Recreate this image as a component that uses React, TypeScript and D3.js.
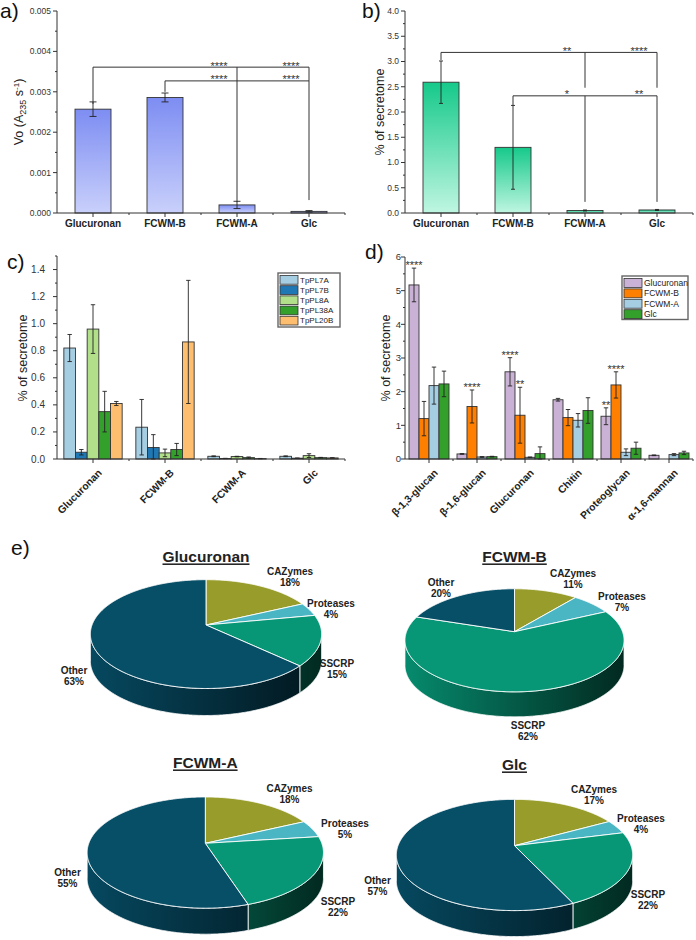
import React from 'react';
import * as d3 from 'd3';

const FONT = "'Liberation Sans', Arial, Helvetica, sans-serif";

// ---------------- data ----------------
const substrates = ['Glucuronan', 'FCWM-B', 'FCWM-A', 'Glc'];
const voValues = [0.00257, 0.00286, 0.0002, 0.00004];
const voErrors = [0.00018, 0.00011, 0.00009, 0.00002];
const lyaseShare = [2.59, 1.3, 0.05, 0.06];
const lyaseShareErr = [0.42, 0.83, 0.01, 0.01];

const enzymes = ['TpPL7A', 'TpPL7B', 'TpPL8A', 'TpPL38A', 'TpPL20B'];
const tpPL7A = [0.82, 0.235, 0.02, 0.02];
const tpPL7AErr = [0.1, 0.205, 0.003, 0.003];
const tpPL7B = [0.05, 0.085, 0.004, 0.006];
const tpPL7BErr = [0.02, 0.095, 0.001, 0.001];
const tpPL8A = [0.96, 0.045, 0.018, 0.025];
const tpPL8AErr = [0.18, 0.028, 0.002, 0.014];
const tpPL38A = [0.35, 0.07, 0.01, 0.01];
const tpPL38AErr = [0.15, 0.045, 0.005, 0.002];
const tpPL20B = [0.41, 0.865, 0.003, 0.008];
const tpPL20BErr = [0.015, 0.455, 0.001, 0.001];

const cwmTypes = ['β-1,3-glucan', 'β-1,6-glucan', 'Glucuronan', 'Chitin', 'Proteoglycan', 'α-1,6-mannan'];
const dGlucuronan = [5.17, 0.15, 2.59, 1.76, 1.27, 0.11];
const dGlucuronanErr = [0.5, 0.01, 0.42, 0.04, 0.25, 0.01];
const dFCWMB = [1.2, 1.56, 1.3, 1.23, 2.2, 0];
const dFCWMBErr = [0.51, 0.49, 0.83, 0.24, 0.39, 0];
const dFCWMA = [2.18, 0.06, 0.05, 1.15, 0.2, 0.13];
const dFCWMAErr = [0.55, 0.01, 0.01, 0.2, 0.1, 0.03];
const dGlc = [2.23, 0.07, 0.16, 1.44, 0.32, 0.18];
const dGlcErr = [0.38, 0.01, 0.2, 0.38, 0.18, 0.05];

const pieCategories = ['CAZymes', 'Proteases', 'SSCRP', 'Other'];
const pieGlucuronan = [18, 4, 15, 63];
const pieFCWMB = [11, 7, 62, 20];
const pieFCWMA = [18, 5, 22, 55];
const pieGlc = [17, 4, 22, 57];

// significance annotations (data units)
const aLines = [{ c1: 0, c2: 3, y: 0.00361 }, { c1: 1, c2: 3, y: 0.00327 }];
const aLegs = [
  { c: 0, y1: 0.00361, y2: 0.0027 }, { c: 2, y1: 0.00361, y2: 0.00027 }, { c: 3, y1: 0.00361, y2: 0.00327 },
  { c: 1, y1: 0.00327, y2: 0.003 }, { c: 3, y1: 0.00327, y2: 0.00032 },
];
const aStars = [{ c: 2, y: 0.00361, t: '****' }, { c: 3, y: 0.00361, t: '****' }, { c: 2, y: 0.00327, t: '****' }, { c: 3, y: 0.00327, t: '****' }];
const bLines = [{ c1: 0, c2: 3, y: 3.18 }, { c1: 1, c2: 3, y: 2.32 }];
const bLegs = [
  { c: 0, y1: 3.18, y2: 3.03 }, { c: 2, y1: 3.18, y2: 2.48 }, { c: 3, y1: 3.18, y2: 2.48 },
  { c: 1, y1: 2.32, y2: 2.13 }, { c: 2, y1: 2.32, y2: 0.22 }, { c: 3, y1: 2.32, y2: 0.22 },
];
const bStars = [{ c: 2, y: 3.18, t: '**' }, { c: 3, y: 3.18, t: '****' }, { c: 2, y: 2.32, t: '*' }, { c: 3, y: 2.32, t: '**' }];
const dStars = [
  { c: 0, s: 0, t: '****' }, { c: 1, s: 1, t: '****' }, { c: 2, s: 0, t: '****' },
  { c: 2, s: 1, t: '**' }, { c: 4, s: 1, t: '****' }, { c: 4, s: 0, t: '**' },
];

// ---------------- helpers ----------------
type Series = { name: string; fill: string; values: number[]; errs: number[] };

type PanelCfg = {
  x0: number; x1: number; yTop: number; yBot: number; max: number;
  ticks: number[]; minor: number[]; fmt: (v: number) => string; tickFs: number; tickEnd: number;
  cats: string[]; series: Series[]; padInner: number; padOuter: number; capW: number;
  rotate: boolean; labelFs: number; yLabel: React.ReactNode; yLabelX: number; yLabelY: number;
};

function makeScales(p: PanelCfg) {
  const x = d3.scaleBand<string>().domain(p.cats).range([p.x0, p.x1]).paddingInner(p.padInner).paddingOuter(p.padOuter);
  const sub = d3.scaleBand<number>().domain(d3.range(p.series.length)).range([0, x.bandwidth()]);
  const y = d3.scaleLinear().domain([0, p.max]).range([p.yBot, p.yTop]);
  return { x, sub, y };
}

function BarPanel({ p, children }: { p: PanelCfg; children?: React.ReactNode }) {
  const { x, sub, y } = makeScales(p);
  const step = x.step();
  const ax = '#333';
  return (
    <g>
      {p.cats.map((c, ci) =>
        p.series.map((s, si) => {
          const v = s.values[ci];
          if (v <= 0) return null;
          const bx = (x(c) as number) + (sub(si) as number);
          const bw = sub.bandwidth();
          return (
            <rect key={`b${ci}-${si}`} x={bx} y={y(v)} width={bw} height={p.yBot - y(v)}
              fill={s.fill} stroke="#333" strokeWidth={0.9} />
          );
        })
      )}
      {p.cats.map((c, ci) =>
        p.series.map((s, si) => {
          const v = s.values[ci];
          const e = s.errs[ci];
          if (v <= 0 || e <= 0) return null;
          const cx = (x(c) as number) + (sub(si) as number) + sub.bandwidth() / 2;
          const yh = y(v + e), yl = y(Math.max(0, v - e));
          return (
            <g key={`e${ci}-${si}`} stroke="#222" strokeWidth={0.9}>
              <line x1={cx} x2={cx} y1={yh} y2={yl} />
              <line x1={cx - p.capW} x2={cx + p.capW} y1={yh} y2={yh} />
              <line x1={cx - p.capW} x2={cx + p.capW} y1={yl} y2={yl} />
            </g>
          );
        })
      )}
      <line x1={p.x0} x2={p.x0} y1={p.yBot} y2={p.yTop} stroke={ax} strokeWidth={1} />
      <line x1={p.x0} x2={p.x1} y1={p.yBot} y2={p.yBot} stroke={ax} strokeWidth={1} />
      {p.ticks.map((t) => (
        <g key={`t${t}`}>
          <line x1={p.x0 - 4} x2={p.x0} y1={y(t)} y2={y(t)} stroke={ax} />
          <text x={p.tickEnd} y={y(t)} dy="0.35em" textAnchor="end" fontSize={p.tickFs} fill="#333">{p.fmt(t)}</text>
        </g>
      ))}
      {p.minor.map((t) => (
        <line key={`m${t}`} x1={p.x0 - 2} x2={p.x0} y1={y(t)} y2={y(t)} stroke={ax} />
      ))}
      {p.cats.map((c, ci) => {
        const cx = (x(c) as number) + x.bandwidth() / 2;
        return (
          <g key={`xt${ci}`}>
            <line x1={cx} x2={cx} y1={p.yBot} y2={p.yBot + 4} stroke={ax} />
            <line x1={cx + step / 2} x2={cx + step / 2} y1={p.yBot} y2={p.yBot + 2} stroke={ax} />
            {p.rotate ? (
              <text transform={`translate(${cx + 7},${p.yBot + 12}) rotate(-45)`} dy="0.35em" textAnchor="end"
                fontSize={p.labelFs} fontWeight="bold" fill="#222">{c}</text>
            ) : (
              <text x={cx} y={p.yBot + 14} textAnchor="middle" fontSize={p.labelFs} fontWeight="bold" fill="#222">{c}</text>
            )}
          </g>
        );
      })}
      <text transform={`translate(${p.yLabelX},${p.yLabelY}) rotate(-90)`} textAnchor="middle" fontSize={12.5} fill="#222">
        {p.yLabel}
      </text>
      {children}
    </g>
  );
}

function Brackets({ p, lines, legs, stars }: { p: PanelCfg; lines: any[]; legs: any[]; stars: any[] }) {
  const { x, y } = makeScales(p);
  const cxOf = (i: number) => (x(p.cats[i]) as number) + x.bandwidth() / 2;
  return (
    <g stroke="#333" strokeWidth={1}>
      {lines.map((l, i) => <line key={`l${i}`} x1={cxOf(l.c1)} x2={cxOf(l.c2)} y1={y(l.y)} y2={y(l.y)} />)}
      {legs.map((l, i) => <line key={`g${i}`} x1={cxOf(l.c)} x2={cxOf(l.c)} y1={y(l.y1)} y2={y(l.y2)} />)}
      {stars.map((s, i) => (
        <text key={`s${i}`} x={cxOf(s.c) - 18} y={y(s.y) + 2.5} textAnchor="middle" fontSize={11} fill="#333" stroke="none">{s.t}</text>
      ))}
    </g>
  );
}

function Legend({ x, y, w, h, rowH, items, fs }: { x: number; y: number; w: number; h: number; rowH: number; items: { name: string; fill: string }[]; fs: number }) {
  return (
    <g>
      <rect x={x} y={y} width={w} height={h} fill="#fff" stroke="#666" strokeWidth={1.4} />
      {items.map((it, i) => (
        <g key={it.name}>
          <rect x={x + 2} y={y + 2.5 + i * rowH} width={18} height={rowH - 1.5} fill={it.fill} stroke="#333" strokeWidth={0.8} />
          <text x={x + 22} y={y + 2.5 + i * rowH + (rowH - 1.5) / 2} dy="0.35em" fontSize={fs} fill="#222">{it.name}</text>
        </g>
      ))}
    </g>
  );
}

// ---------- 3D pie ----------
const PD = 5.31, PC = 0.886, PS = 0.464;
function proj(cx: number, cy: number, k: number, th: number): [number, number] {
  const X = Math.sin(th), Z = -Math.cos(th);
  const w = PD / (PD - Z * PC);
  return [cx + k * X * w, cy + k * Z * PS * w];
}
const pieColors = ['#979c2b', '#4bb6c3', '#079676', '#074e67'];
function shade(hex: string, f: number) {
  const c = d3.rgb(hex);
  return d3.rgb(c.r * f, c.g * f, c.b * f).formatHex();
}

type PieCfg = { id: string; title: string; values: number[]; cx: number; cy: number; k: number; depth: number; titleY: number; labels: [number, number][] };

function Pie3D({ c }: { c: PieCfg }) {
  const total = d3.sum(c.values);
  const pie = d3.pie<number>().sort(null).value((d) => d)(c.values);
  const thR = Math.acos(-PC / PD);
  const thL = 2 * Math.PI - thR;
  const arcPts = (a0: number, a1: number, dy = 0) => {
    const n = Math.max(2, Math.ceil(((a1 - a0) * 180) / Math.PI / 0.5));
    return d3.range(n + 1).map((i) => {
      const [px, py] = proj(c.cx, c.cy, c.k, a0 + ((a1 - a0) * i) / n);
      return [px, py + dy] as [number, number];
    });
  };
  const line = d3.line();
  return (
    <g>
      <defs>
        {pieColors.map((col, i) => (
          <linearGradient key={i} id={`side-${c.id}-${i}`} gradientUnits="userSpaceOnUse" x1={c.cx - c.k} x2={c.cx + c.k} y1={0} y2={0}>
            <stop offset="0" stopColor={shade(col, 0.92)} />
            <stop offset="1" stopColor={shade(col, 0.28)} />
          </linearGradient>
        ))}
      </defs>
      {pie.map((s, i) => {
        const lo = Math.max(s.startAngle, thR), hi = Math.min(s.endAngle, thL);
        if (lo >= hi) return null;
        const top = arcPts(lo, hi);
        const bot = arcPts(lo, hi, c.depth).reverse();
        return <path key={`sd${i}`} d={line([...top, ...bot]) + 'Z'} fill={`url(#side-${c.id}-${i})`} stroke="#fff" strokeWidth={0.8} />;
      })}
      {pie.map((s, i) => {
        const pts = arcPts(s.startAngle, s.endAngle);
        return <path key={`tp${i}`} d={line([[c.cx, c.cy], ...pts]) + 'Z'} fill={pieColors[i]} stroke="#fff" strokeWidth={0.9} strokeLinejoin="round" />;
      })}
      <text x={c.cx} y={c.titleY} dy="0.35em" textAnchor="middle" fontSize={15.5} fontWeight="bold" fill="#222" textDecoration="underline">{c.title}</text>
      {pieCategories.map((name, i) => (
        <text key={name} x={c.labels[i][0]} y={c.labels[i][1]} dy="0.35em" textAnchor="middle" fontSize={10} fontWeight="bold" fill="#222">
          <tspan x={c.labels[i][0]}>{name}</tspan>
          <tspan x={c.labels[i][0]} dy="11.3">{`${Math.round((c.values[i] / total) * 100)}%`}</tspan>
        </text>
      ))}
    </g>
  );
}

// ---------------- config ----------------
const enzymeColors = ['#a6cee3', '#1f78b4', '#b2df8a', '#33a02c', '#fdbf6f'];
const dColors = ['#cab2d6', '#ff7f00', '#a6cee3', '#33a02c'];

const panelA: PanelCfg = {
  x0: 57, x1: 345, yTop: 11, yBot: 213, max: 0.005,
  ticks: d3.range(0, 0.0050001, 0.001), minor: d3.range(0.0005, 0.005, 0.001), fmt: d3.format('.3f'), tickFs: 8.5, tickEnd: 51,
  cats: substrates, series: [{ name: 'Vo', fill: 'url(#gradA)', values: voValues, errs: voErrors }],
  padInner: 0.5, padOuter: 0.25, capW: 3.5, rotate: false, labelFs: 10,
  yLabel: (<>Vo (A<tspan fontSize={9} dy="3">235</tspan><tspan dy="-3"> s</tspan><tspan fontSize={8} dy="-4">-1</tspan><tspan dy="4">)</tspan></>),
  yLabelX: 23, yLabelY: 112,
};
const panelB: PanelCfg = {
  x0: 405, x1: 693, yTop: 11, yBot: 213, max: 4,
  ticks: d3.range(0, 4.0001, 0.5), minor: d3.range(0.25, 4, 0.5), fmt: d3.format('.1f'), tickFs: 8.5, tickEnd: 399,
  cats: substrates, series: [{ name: 'share', fill: 'url(#gradB)', values: lyaseShare, errs: lyaseShareErr }],
  padInner: 0.5, padOuter: 0.25, capW: 2, rotate: false, labelFs: 10,
  yLabel: '% of secretome', yLabelX: 384, yLabelY: 112,
};
const panelC: PanelCfg = {
  x0: 57, x1: 345, yTop: 256, yBot: 459, max: 1.5,
  ticks: d3.range(0, 1.50001, 0.2), minor: d3.range(0.1, 1.55, 0.2), fmt: d3.format('.1f'), tickFs: 10, tickEnd: 45,
  cats: substrates,
  series: [
    { name: enzymes[0], fill: enzymeColors[0], values: tpPL7A, errs: tpPL7AErr },
    { name: enzymes[1], fill: enzymeColors[1], values: tpPL7B, errs: tpPL7BErr },
    { name: enzymes[2], fill: enzymeColors[2], values: tpPL8A, errs: tpPL8AErr },
    { name: enzymes[3], fill: enzymeColors[3], values: tpPL38A, errs: tpPL38AErr },
    { name: enzymes[4], fill: enzymeColors[4], values: tpPL20B, errs: tpPL20BErr },
  ],
  padInner: 0.19, padOuter: 0.095, capW: 2.2, rotate: true, labelFs: 10.3,
  yLabel: '% of secretome', yLabelX: 27, yLabelY: 358,
};
const panelD: PanelCfg = {
  x0: 405, x1: 693, yTop: 257, yBot: 459, max: 6,
  ticks: d3.range(0, 6.0001, 1), minor: d3.range(0.5, 6, 1), fmt: d3.format('d'), tickFs: 9.5, tickEnd: 401,
  cats: cwmTypes,
  series: [
    { name: 'Glucuronan', fill: dColors[0], values: dGlucuronan, errs: dGlucuronanErr },
    { name: 'FCWM-B', fill: dColors[1], values: dFCWMB, errs: dFCWMBErr },
    { name: 'FCWM-A', fill: dColors[2], values: dFCWMA, errs: dFCWMAErr },
    { name: 'Glc', fill: dColors[3], values: dGlc, errs: dGlcErr },
  ],
  padInner: 1 / 6, padOuter: 1 / 12, capW: 2.2, rotate: true, labelFs: 10.3,
  yLabel: '% of secretome', yLabelX: 390, yLabelY: 358,
};

const pies: PieCfg[] = [
  { id: 'g', title: 'Glucuronan', values: pieGlucuronan, cx: 206, cy: 625, k: 114, depth: 27, titleY: 557,
    labels: [[290, 571], [331, 603], [337, 663], [74, 670]] },
  { id: 'b', title: 'FCWM-B', values: pieFCWMB, cx: 514.5, cy: 631.7, k: 108, depth: 25, titleY: 557,
    labels: [[573, 573], [622, 596], [528, 725], [441, 582]] },
  { id: 'a', title: 'FCWM-A', values: pieFCWMA, cx: 205.3, cy: 843.3, k: 116.5, depth: 26, titleY: 763,
    labels: [[289.5, 788], [345, 823], [338, 901], [67.5, 872]] },
  { id: 'c', title: 'Glc', values: pieGlc, cx: 514.5, cy: 845.7, k: 116.5, depth: 26, titleY: 765,
    labels: [[594, 789], [641, 818], [648, 894], [377.5, 880]] },
];

function DStars() {
  const { x, sub, y } = makeScales(panelD);
  return (
    <g>
      {dStars.map((s, i) => {
        const ser = panelD.series[s.s];
        const cx = (x(cwmTypes[s.c]) as number) + (sub(s.s) as number) + sub.bandwidth() / 2;
        const top = y(ser.values[s.c] + ser.errs[s.c]);
        return <text key={i} x={cx} y={top + 1} textAnchor="middle" fontSize={11} fill="#333">{s.t}</text>;
      })}
    </g>
  );
}

export default function App() {
  return (
    <svg width={696} height={940} viewBox="0 0 696 940" style={{ position: 'absolute', left: 0, top: 0, background: '#fff' }} fontFamily={FONT}>
      <defs>
        <linearGradient id="gradA" x1="0" x2="0" y1="0" y2="1">
          <stop offset="0" stopColor="#7d8df2" />
          <stop offset="1" stopColor="#c9d0fb" />
        </linearGradient>
        <linearGradient id="gradB" x1="0" x2="0" y1="0" y2="1">
          <stop offset="0" stopColor="#16c98a" />
          <stop offset="1" stopColor="#bff6e2" />
        </linearGradient>
      </defs>
      <rect x={0} y={0} width={696} height={940} fill="#fff" />

      <BarPanel p={panelA}><Brackets p={panelA} lines={aLines} legs={aLegs} stars={aStars} /></BarPanel>
      <BarPanel p={panelB}><Brackets p={panelB} lines={bLines} legs={bLegs} stars={bStars} /></BarPanel>
      <BarPanel p={panelC}>
        <Legend x={278} y={273} w={62} h={54} rowH={10.2} fs={8} items={enzymes.map((n, i) => ({ name: n, fill: enzymeColors[i] }))} />
      </BarPanel>
      <BarPanel p={panelD}>
        <DStars />
        <Legend x={622} y={276} w={66} h={43.5} rowH={10.4} fs={8.5} items={panelD.series.map((s) => ({ name: s.name, fill: s.fill }))} />
      </BarPanel>

      {pies.map((c) => <Pie3D key={c.id} c={c} />)}

      <g fontSize={21} fill="#111">
        <text x={0} y={18}>a)</text>
        <text x={362} y={18}>b)</text>
        <text x={7} y={269}>c)</text>
        <text x={365} y={259}>d)</text>
        <text x={11} y={555}>e)</text>
      </g>
    </svg>
  );
}
